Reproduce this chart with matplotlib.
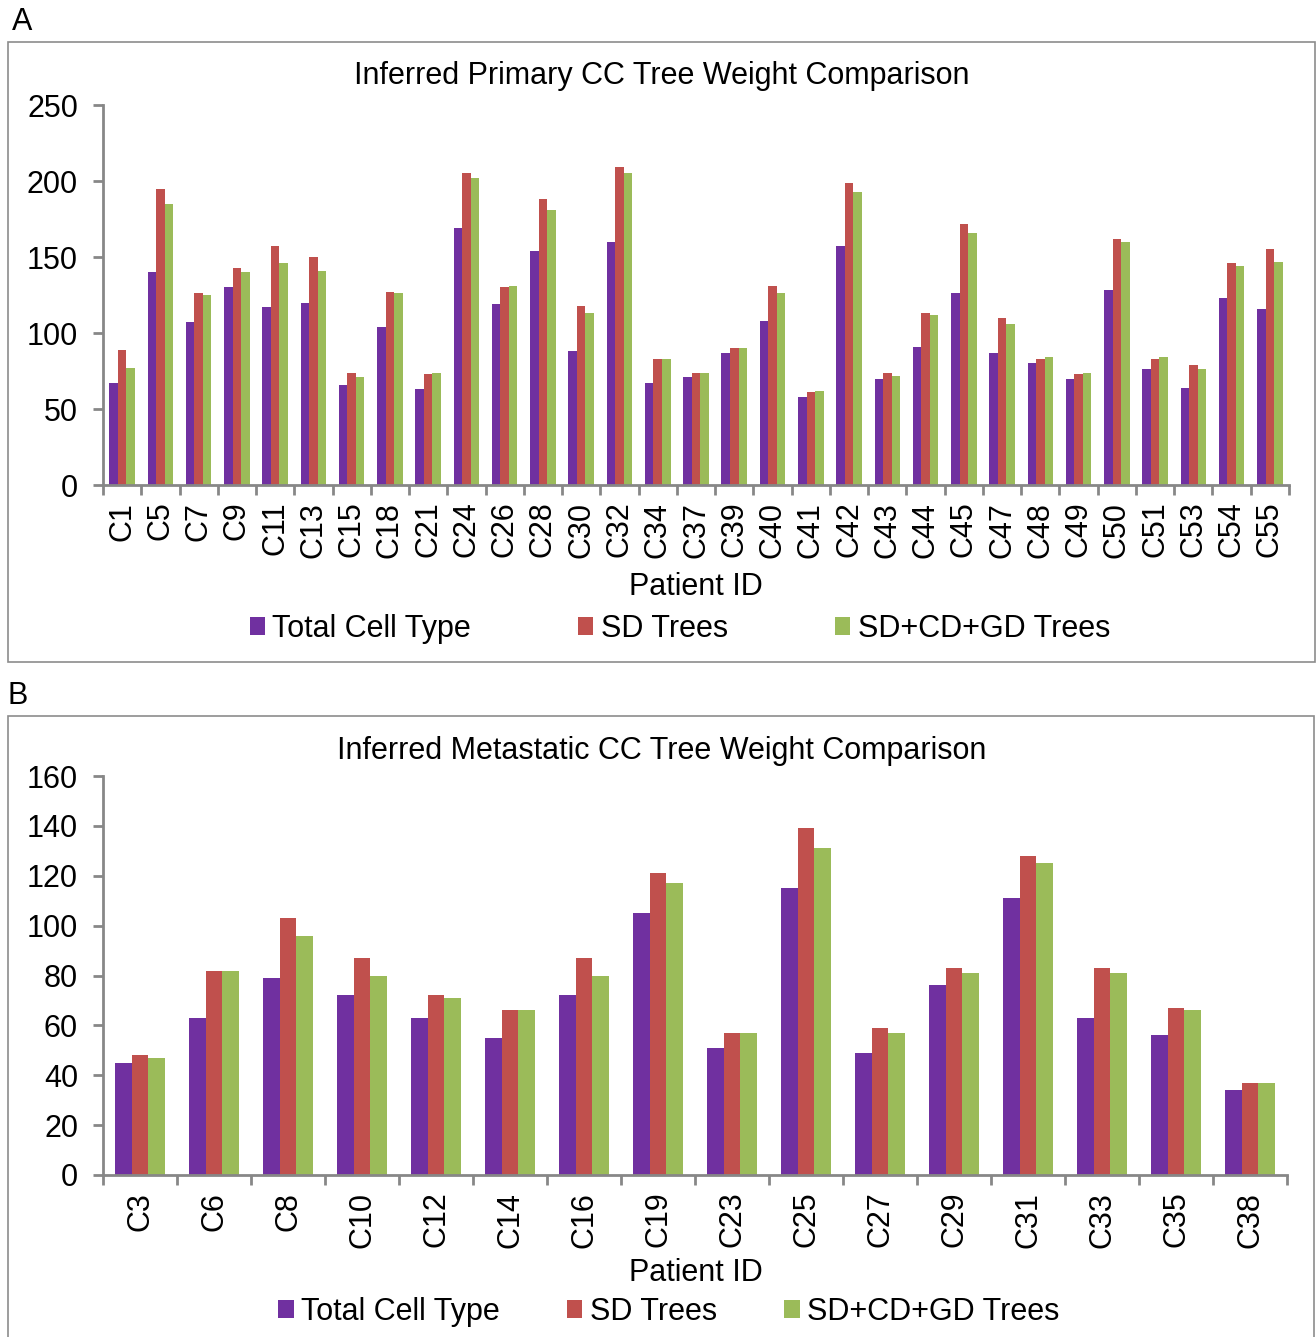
import matplotlib.pyplot as plt
import matplotlib.patches as mpatches
import numpy as np

plt.rcParams['font.family'] = ['Liberation Sans', 'DejaVu Sans']

# panel A - primary
prim_ids = ['C1', 'C5', 'C7', 'C9', 'C11', 'C13', 'C15', 'C18', 'C21', 'C24', 'C26',
            'C28', 'C30', 'C32', 'C34', 'C37', 'C39', 'C40', 'C41', 'C42', 'C43', 'C44',
            'C45', 'C47', 'C48', 'C49', 'C50', 'C51', 'C53', 'C54', 'C55']
prim_total = [67, 140, 107, 130, 117, 120, 66, 104, 63, 169, 119, 154, 88, 160, 67, 71,
              87, 108, 58, 157, 70, 91, 126, 87, 80, 70, 128, 76, 64, 123, 116]
prim_sd = [89, 195, 126, 143, 157, 150, 74, 127, 73, 205, 130, 188, 118, 209, 83, 74,
           90, 131, 61, 199, 74, 113, 172, 110, 83, 73, 162, 83, 79, 146, 155]
prim_all = [77, 185, 125, 140, 146, 141, 71, 126, 74, 202, 131, 181, 113, 205, 83, 74,
            90, 126, 62, 193, 72, 112, 166, 106, 84, 74, 160, 84, 76, 144, 147]

# panel B - metastatic
met_ids = ['C3', 'C6', 'C8', 'C10', 'C12', 'C14', 'C16', 'C19', 'C23', 'C25', 'C27',
           'C29', 'C31', 'C33', 'C35', 'C38']
met_total = [45, 63, 79, 72, 63, 55, 72, 105, 51, 115, 49, 76, 111, 63, 56, 34]
met_sd = [48, 82, 103, 87, 72, 66, 87, 121, 57, 139, 59, 83, 128, 83, 67, 37]
met_all = [47, 82, 96, 80, 71, 66, 80, 117, 57, 131, 57, 81, 125, 81, 66, 37]

series_names = ['Total Cell Type', 'SD Trees', 'SD+CD+GD Trees']
colors = ['#7030A0', '#C0504D', '#9BBB59']
axis_gray = '#878787'
FS = 22

W, H = 1316, 1337
fig = plt.figure(figsize=(W / 100, H / 100), dpi=100)


def fx(px):
    return px / W


def fy(py):
    return 1 - py / H


def draw_panel(ax, ids, vals, ymax, ystep):
    n = len(ids)
    x = np.arange(n)
    bw = 0.667 / 3
    bars = []
    for k, (v, c) in enumerate(zip(vals, colors)):
        b = ax.bar(x + (k - 1) * bw, v, bw, color=c, linewidth=0)
        bars.append(b)
    ax.set_xlim(-0.5, n - 0.5)
    ax.set_ylim(0, ymax)
    ax.set_yticks(np.arange(0, ymax + 1, ystep))
    ax.set_xticks(x)
    ax.set_xticklabels(ids, rotation=90)
    ax.set_xticks(np.arange(-0.5, n, 1.0), minor=True)
    ax.tick_params(axis='x', which='major', length=0, pad=12, labelsize=FS)
    ax.tick_params(axis='x', which='minor', length=7, width=2, color=axis_gray,
                   direction='out')
    ax.tick_params(axis='y', length=7, width=2, color=axis_gray, pad=11, labelsize=FS)
    for s in ['top', 'right']:
        ax.spines[s].set_visible(False)
    for s in ['left', 'bottom']:
        ax.spines[s].set_color(axis_gray)
        ax.spines[s].set_linewidth(2)
    return bars


# panel frames
fig.patches.append(mpatches.Rectangle((fx(8), fy(662)), fx(1307), (662 - 42) / H,
                                      transform=fig.transFigure, fill=False,
                                      edgecolor='#8c8c8c', linewidth=1.2))
fig.patches.append(mpatches.Rectangle((fx(8), fy(1345)), fx(1306), (1345 - 716) / H,
                                      transform=fig.transFigure, fill=False,
                                      edgecolor='#8c8c8c', linewidth=1.2))
fig.text(fx(12), fy(22), 'A', fontsize=FS, va='center', ha='left')
fig.text(fx(8), fy(696), 'B', fontsize=FS, va='center', ha='left')

# A
axA = fig.add_axes([fx(103), fy(485), fx(1289 - 103), (485 - 105) / H])
barsA = draw_panel(axA, prim_ids, [prim_total, prim_sd, prim_all], 250, 50)
fig.text(fx(662), fy(76), 'Inferred Primary CC Tree Weight Comparison', fontsize=FS,
         ha='center', va='center')
fig.text(fx(696), fy(587), 'Patient ID', fontsize=FS, ha='center', va='center')
fig.legend(barsA, series_names, loc='center', bbox_to_anchor=(fx(680), fy(629)),
           ncol=3, frameon=False, fontsize=FS, handlelength=0.5, handleheight=0.5,
           handletextpad=0.25, columnspacing=3.5, borderpad=0)

# B
axB = fig.add_axes([fx(103), fy(1175), fx(1287 - 103), (1175 - 776) / H])
barsB = draw_panel(axB, met_ids, [met_total, met_sd, met_all], 160, 20)
fig.text(fx(662), fy(751), 'Inferred Metastatic CC Tree Weight Comparison', fontsize=FS,
         ha='center', va='center')
fig.text(fx(696), fy(1273), 'Patient ID', fontsize=FS, ha='center', va='center')
fig.legend(barsB, series_names, loc='center', bbox_to_anchor=(fx(669), fy(1312)),
           ncol=3, frameon=False, fontsize=FS, handlelength=0.5, handleheight=0.5,
           handletextpad=0.25, columnspacing=2.2, borderpad=0)

fig.savefig('out.png', dpi=100)
